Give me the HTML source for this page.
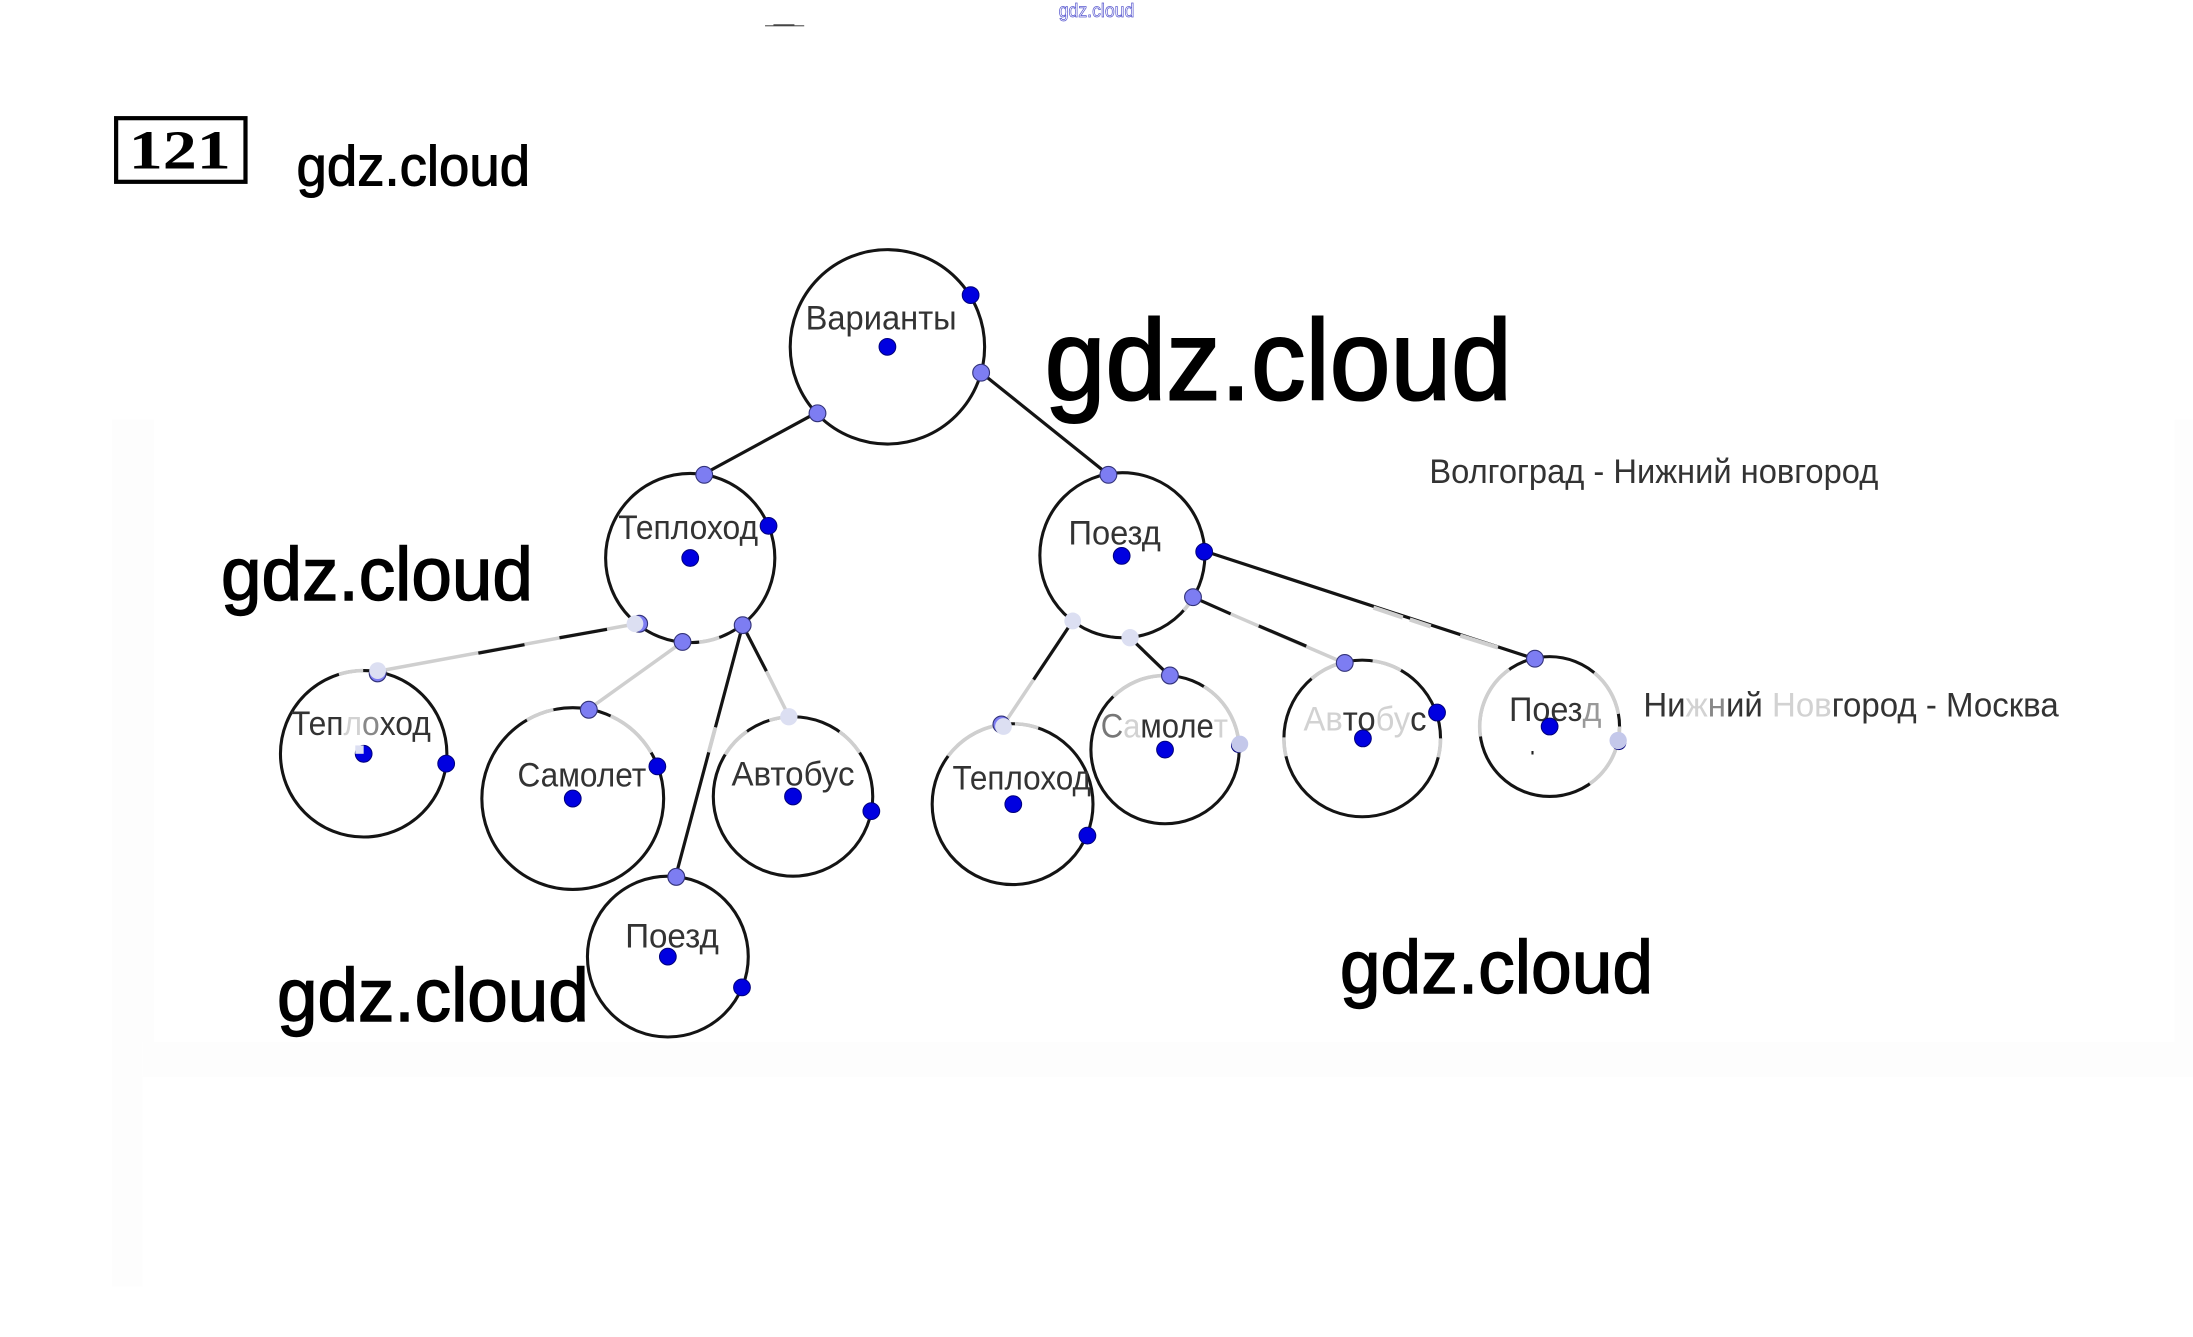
<!DOCTYPE html>
<html lang="ru">
<head>
<meta charset="utf-8">
<title>gdz.cloud 121</title>
<style>
html,body{margin:0;padding:0;background:#fff;width:2193px;height:1337px;overflow:hidden}
svg{display:block}
.c{fill:none;stroke:#141414;stroke-width:2.2}
.g{fill:none;stroke:#cfcfcf;stroke-width:2.6}
.l{stroke:#141414;stroke-width:2.3;fill:none}
.lg{stroke:#cfcfcf;stroke-width:2.5;fill:none}
.d{fill:#0000e0;stroke:#00007a;stroke-width:.7}
.m{fill:#7d7df2;stroke:#33337a;stroke-width:.8}
.p{fill:#dcdff2;stroke:none}
.t{font-family:"Liberation Sans",sans-serif;font-size:24.5px;fill:#333}
.w{font-family:"Liberation Sans",sans-serif;fill:#000;stroke:#000}
.f{fill:#d2d2d2}
</style>
</head>
<body>
<svg xmlns="http://www.w3.org/2000/svg" width="2193" height="1337" viewBox="0 0 1568 956">
<!-- faint page panels -->
<rect x="80" y="300" width="30" height="445" fill="#fdfdfd"/>
<rect x="80" y="745" width="22" height="175" fill="#fdfdfd"/>
<rect x="102" y="745" width="1466" height="25" fill="#fdfdfd"/>
<rect x="1555" y="300" width="13" height="445" fill="#fdfdfd"/>

<!-- header marks -->
<path d="M547 18.4L575 18.4" fill="none" stroke="#666" stroke-width=".9"/>
<path d="M553 17.8L568 17.8" fill="none" stroke="#222" stroke-width=".8"/>
<text x="757" y="12" class="w" font-size="14" textLength="54" lengthAdjust="spacingAndGlyphs" style="fill:#fff;stroke:#5a5ad0;stroke-width:.55">gdz.cloud</text>
<rect x="83" y="84.5" width="92.5" height="45.5" fill="none" stroke="#000" stroke-width="3"/>
<text x="92" y="120.5" font-family="Liberation Serif,serif" font-weight="700" font-size="39" textLength="73" lengthAdjust="spacingAndGlyphs" fill="#000">121</text>

<!-- connectors -->
<g class="l">
<line x1="584" y1="295" x2="503" y2="339"/>
<line x1="701" y1="266" x2="792" y2="339"/>
<line x1="531" y1="447" x2="483" y2="627"/>
<line x1="531" y1="447" x2="548" y2="480"/>
<line x1="767" y1="444" x2="739" y2="486"/>
<line x1="808" y1="456" x2="836" y2="483"/>
<line x1="853" y1="427" x2="880" y2="439"/>
<line x1="861" y1="394" x2="1097" y2="471"/>
</g>
<g class="lg">
<line x1="455" y1="446" x2="270" y2="480"/>
<line x1="488" y1="459" x2="421" y2="507"/>
<line x1="548" y1="480" x2="564" y2="512"/>
<line x1="739" y1="486" x2="717" y2="519"/>
<line x1="880" y1="439" x2="961" y2="474"/>
<line x1="982" y1="434.5" x2="1003" y2="441.5" stroke-width="3"/>
<line x1="1008" y1="443" x2="1023" y2="448" stroke-width="3"/>
<line x1="1044" y1="454.5" x2="1071" y2="463" stroke-width="3"/>
<line x1="511.5" y1="520" x2="506.7" y2="538" stroke-width="2.8"/>
</g>
<g class="l">
<line x1="342" y1="467" x2="375" y2="461"/>
<line x1="400" y1="456" x2="434" y2="450"/>
<line x1="900" y1="447.5" x2="934" y2="462"/>
</g>

<!-- circles -->
<g class="c">
<circle cx="634.5" cy="248" r="69.5"/>
<circle cx="493.5" cy="399" r="60.5"/>
<circle cx="802.5" cy="397" r="59"/>
<circle cx="260" cy="539" r="59.5"/>
<circle cx="409.5" cy="571" r="65"/>
<circle cx="567" cy="569.5" r="57"/>
<circle cx="477.5" cy="684" r="57.5"/>
<circle cx="724" cy="575" r="57.5"/>
<circle cx="833" cy="536" r="53"/>
<circle cx="974" cy="528" r="56"/>
<circle cx="1108" cy="519.5" r="50"/>
</g>

<!-- faded arc segments -->
<g class="g">
<circle pathLength="360" cx="260" cy="539" r="59.5" stroke-dasharray="0 253 17 360"/>
<circle pathLength="360" cx="409.5" cy="571" r="65" stroke-dasharray="0 240 18 37 35 360"/>
<circle pathLength="360" cx="567" cy="569.5" r="57" stroke-dasharray="0 212 23 18 13 40 21 360"/>
<circle pathLength="360" cx="493.5" cy="399" r="60.5" stroke-dasharray="0 70 14 360"/>
<circle pathLength="360" cx="802.5" cy="397" r="59" stroke-dasharray="0 30 12 360"/>
<circle pathLength="360" cx="724" cy="575" r="57.5" stroke-dasharray="0 217 44 11 17 360"/>
<circle pathLength="360" cx="833" cy="536" r="53" stroke-dasharray="0 226 42 34 58 360"/>
<circle pathLength="360" cx="974" cy="528" r="56" stroke-dasharray="0 0 14 153 14 49 23 25 22 360"/>
<circle pathLength="360" cx="1108" cy="519.5" r="50" stroke-dasharray="0 0 55 117 63 75 40 360"/>
</g>

<!-- node labels -->
<g class="t">
<text x="576" y="235.5" textLength="108" lengthAdjust="spacingAndGlyphs">Варианты</text>
<text x="442" y="385.5" textLength="100" lengthAdjust="spacingAndGlyphs">Теплоход</text>
<text x="764" y="389.5" textLength="66" lengthAdjust="spacingAndGlyphs">Поезд</text>
<text x="208" y="525.5" textLength="100" lengthAdjust="spacingAndGlyphs">Теп<tspan class="f">л</tspan><tspan fill="#888">о</tspan>ход</text>
<text x="370" y="562.5" textLength="92" lengthAdjust="spacingAndGlyphs">Самолет</text>
<text x="523" y="561.5" textLength="88" lengthAdjust="spacingAndGlyphs">Автобус</text>
<text x="447" y="677.5" textLength="67" lengthAdjust="spacingAndGlyphs">Поезд</text>
<text x="681" y="564.5" textLength="99" lengthAdjust="spacingAndGlyphs">Теплоход</text>
<text x="787" y="527.5" textLength="91" lengthAdjust="spacingAndGlyphs"><tspan fill="#777">С</tspan><tspan class="f">а</tspan>моле<tspan class="f">т</tspan></text>
<text x="932" y="522.5" textLength="88" lengthAdjust="spacingAndGlyphs"><tspan class="f">Ав</tspan>то<tspan class="f">бу</tspan>с</text>
<text x="1079" y="515.5" textLength="66" lengthAdjust="spacingAndGlyphs">Поез<tspan fill="#999">д</tspan></text>
<text x="1022" y="345.5" textLength="321" lengthAdjust="spacingAndGlyphs">Волгоград - Нижний новгород</text>
<text x="1175" y="512.5" textLength="297" lengthAdjust="spacingAndGlyphs">Ни<tspan class="f">ж</tspan><tspan fill="#888">н</tspan>ий <tspan class="f">Нов</tspan>город - Москва</text>
</g>

<!-- anchor dots -->
<g class="d">
<circle cx="694" cy="211" r="6"/><circle cx="634.5" cy="248" r="6"/>
<circle cx="549.5" cy="376" r="6"/><circle cx="493.5" cy="399" r="6"/>
<circle cx="802" cy="397.5" r="6"/><circle cx="861" cy="394.5" r="6"/>
<circle cx="260" cy="539" r="6"/><circle cx="319" cy="546" r="6"/>
<circle cx="409.5" cy="571" r="6"/><circle cx="470" cy="548" r="6"/>
<circle cx="567" cy="569.5" r="6"/><circle cx="623" cy="580" r="6"/>
<circle cx="477.5" cy="684" r="6"/><circle cx="530.5" cy="706" r="6"/>
<circle cx="724.5" cy="575" r="6"/><circle cx="777.5" cy="597.5" r="6"/>
<circle cx="833" cy="536" r="6"/><circle cx="885.5" cy="533" r="5" fill="#00007a"/>
<circle cx="974.5" cy="528" r="6"/><circle cx="1027.5" cy="509.5" r="6"/>
<circle cx="1108" cy="519.5" r="6"/><circle cx="1157.5" cy="531" r="5" fill="#00007a"/>
</g>
<g class="m">
<circle cx="701.5" cy="266.5" r="6"/><circle cx="584.5" cy="295.5" r="6"/>
<circle cx="503.5" cy="339.5" r="6"/><circle cx="792.5" cy="339.5" r="6"/>
<circle cx="457" cy="446" r="6"/><circle cx="488" cy="459" r="6"/><circle cx="531" cy="447" r="6"/>
<circle cx="853" cy="427" r="6"/><circle cx="421" cy="507.5" r="6"/>
<circle cx="483.5" cy="627" r="6"/><circle cx="836.5" cy="483" r="6"/>
<circle cx="961.5" cy="474" r="6"/><circle cx="1097.5" cy="471" r="6"/>
<circle cx="270" cy="481.5" r="6"/><circle cx="716" cy="518" r="6"/>
</g>
<g class="p">
<circle cx="454" cy="446" r="6"/><circle cx="270" cy="479.5" r="6"/>
<circle cx="564" cy="512.5" r="6.2"/><circle cx="767" cy="444" r="6"/>
<circle cx="808" cy="456" r="6.2"/><circle cx="717.5" cy="519.5" r="6"/>
<circle cx="886.5" cy="532" r="6" fill="#c4c8ea"/><circle cx="1157" cy="529.5" r="6.2" fill="#c4c8ea"/>
<rect x="254" y="533" width="6" height="6" fill="#dcdff2"/>
</g>
<rect x="1095" y="537" width="1.5" height="2.5" fill="#222"/>

<!-- watermarks -->
<g class="w">
<text x="212" y="132.5" font-size="40.5" textLength="167" lengthAdjust="spacingAndGlyphs" stroke-width=".75">gdz.cloud</text>
<text x="747" y="285.5" font-size="81.5" textLength="334" lengthAdjust="spacingAndGlyphs" stroke-width="1.5">gdz.cloud</text>
<text x="158" y="429" font-size="54" textLength="223" lengthAdjust="spacingAndGlyphs" stroke-width="1">gdz.cloud</text>
<text x="198" y="730" font-size="54" textLength="223" lengthAdjust="spacingAndGlyphs" stroke-width="1">gdz.cloud</text>
<text x="958" y="710" font-size="54" textLength="224" lengthAdjust="spacingAndGlyphs" stroke-width="1">gdz.cloud</text>
</g>
</svg>
</body>
</html>
